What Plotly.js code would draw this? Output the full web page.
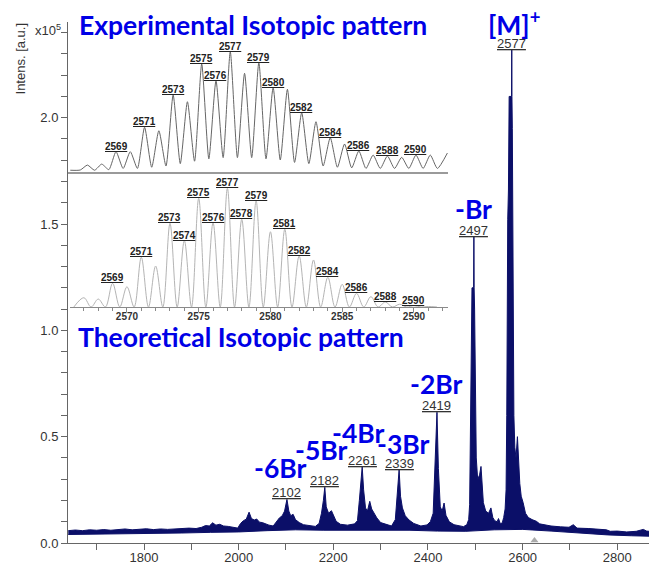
<!DOCTYPE html>
<html>
<head>
<meta charset="utf-8">
<script src="https://cdn.plot.ly/plotly-3.0.1.min.js"></script>
<style>
  html, body { margin: 0; padding: 0; background: #fff; }
  #chart { width: 649px; height: 564px; }
</style>
</head>
<body>
<div id="chart"></div>
<script>
// ---- Full MALDI spectrum (intensity in units of 1e5) ----
// upper edge of the recorded trace
const specMz = [
  1640, 1655, 1670, 1685, 1700, 1715, 1730, 1745, 1760, 1775, 1790, 1805, 1820, 1835, 1850, 1865,
  1880, 1895, 1910, 1922, 1930, 1938, 1945, 1952, 1960, 1968, 1978, 1988, 1998, 2004, 2010, 2016,
  2022, 2027, 2033, 2038, 2044, 2050, 2056, 2064, 2073, 2080, 2086, 2092, 2097, 2102, 2106, 2110,
  2115, 2120, 2128, 2137, 2150, 2162, 2170, 2175, 2179, 2182, 2185, 2190, 2196, 2200, 2206, 2215,
  2230, 2245, 2251, 2255, 2258, 2261, 2264, 2268, 2272, 2277, 2281, 2286, 2292, 2300, 2312, 2323,
  2331, 2335, 2339, 2342, 2346, 2352, 2360, 2370, 2385, 2398, 2405, 2411, 2415, 2419, 2422, 2426,
  2430, 2434, 2438, 2445, 2455, 2465, 2475, 2482, 2486, 2488, 2489.5, 2491, 2493, 2496.5, 2497, 2497.5,
  2498.5, 2500, 2502, 2505, 2509, 2512, 2514, 2517, 2522, 2528, 2533, 2537, 2541, 2546, 2549, 2553,
  2557, 2560, 2563, 2565, 2566.5, 2567.5, 2568.5, 2570, 2571.5, 2576.6, 2577, 2577.4, 2578.2, 2579, 2580, 2581.5,
  2583.5, 2586, 2589, 2591, 2594, 2597, 2601, 2606, 2612, 2620, 2629, 2636, 2645, 2660, 2680, 2698,
  2707, 2715, 2740, 2760, 2777, 2785, 2800, 2820, 2840, 2855, 2862, 2867
];
const specUpper = [
  0.058, 0.061, 0.058, 0.062, 0.060, 0.063, 0.060, 0.064, 0.066, 0.062, 0.065, 0.067, 0.063, 0.066, 0.064, 0.067,
  0.068, 0.070, 0.068, 0.074, 0.082, 0.080, 0.095, 0.084, 0.088, 0.080, 0.078, 0.074, 0.070, 0.092, 0.105, 0.112,
  0.145, 0.115, 0.108, 0.113, 0.098, 0.096, 0.090, 0.084, 0.080, 0.100, 0.118, 0.128, 0.150, 0.205, 0.150, 0.128,
  0.135, 0.110, 0.096, 0.086, 0.080, 0.078, 0.092, 0.140, 0.200, 0.262, 0.170, 0.140, 0.152, 0.128, 0.102, 0.088,
  0.084, 0.090, 0.105, 0.200, 0.300, 0.358, 0.250, 0.165, 0.150, 0.196, 0.160, 0.140, 0.118, 0.096, 0.086, 0.080,
  0.110, 0.240, 0.345, 0.220, 0.165, 0.128, 0.108, 0.092, 0.080, 0.085, 0.100, 0.140, 0.350, 0.615, 0.350, 0.170,
  0.150, 0.188, 0.130, 0.100, 0.086, 0.080, 0.077, 0.086, 0.110, 0.180, 0.50, 0.85, 1.20, 1.20, 1.44, 1.20,
  1.10, 0.80, 0.40, 0.30, 0.32, 0.36, 0.28, 0.19, 0.150, 0.140, 0.165, 0.120, 0.105, 0.100, 0.115, 0.090,
  0.095, 0.120, 0.160, 0.250, 0.60, 1.30, 1.52, 1.66, 2.10, 2.10, 2.32, 2.10, 1.95, 1.65, 0.95, 0.60,
  0.45, 0.40, 0.50, 0.40, 0.28, 0.22, 0.19, 0.140, 0.120, 0.110, 0.102, 0.090, 0.085, 0.080, 0.076, 0.074,
  0.086, 0.070, 0.068, 0.063, 0.062, 0.055, 0.056, 0.052, 0.055, 0.064, 0.056, 0.055
];
// lower edge of the noise band
const baseMz = [1640, 1700, 1760, 1820, 1880, 1940, 2000, 2060, 2120, 2180, 2240, 2300, 2360, 2420, 2480, 2540, 2600, 2660, 2720, 2780, 2830, 2867];
const baseLower = [0.040, 0.041, 0.043, 0.045, 0.047, 0.050, 0.052, 0.058, 0.062, 0.060, 0.060, 0.060, 0.060, 0.056, 0.055, 0.062, 0.064, 0.056, 0.046, 0.038, 0.034, 0.032];

// labelled peaks of the full spectrum
const mainPeaks = [2102, 2182, 2261, 2339, 2419, 2497, 2577];
// fragment assignments
const fragNames = ['-6Br', '-5Br', '-4Br', '-3Br', '-2Br', '-Br', '[M]<sup>+</sup>'];

// small grey marker on the baseline
const markMz = [2625];
const markY = [0.012];

// ---- Experimental isotopic pattern (relative intensity, 2577 = 100) ----
const expMz = [
  2565.8, 2566.5, 2567, 2567.5, 2568, 2568.5, 2569, 2569.5, 2570, 2570.5, 2571, 2571.5, 2572, 2572.5,
  2573, 2573.5, 2574, 2574.5, 2575, 2575.5, 2576, 2576.5, 2577, 2577.5, 2578, 2578.5, 2579, 2579.5,
  2580, 2580.5, 2581, 2581.5, 2582, 2582.5, 2583, 2583.5, 2584, 2584.5, 2585, 2585.5, 2586, 2586.5,
  2587, 2587.5, 2588, 2588.5, 2589, 2589.5, 2590, 2590.5, 2591, 2591.5, 2592.2
];
const expInt = [
  1.5, 1.7, 5.8, 1.5, 6.6, 2, 16.9, 3, 16.9, 3, 37.2, 4, 34.3, 5,
  64, 7, 58.4, 9, 89.8, 11, 75.9, 12, 100, 12, 82, 12, 90.9, 11,
  70.1, 10, 68.7, 8, 49.3, 7, 41.8, 5, 28.5, 4, 23.3, 3.5, 17.5, 3,
  14.1, 3, 13.3, 3, 12.2, 3, 14.1, 3, 14.1, 3, 15.8
];
const expLabels = [2569, 2571, 2573, 2575, 2576, 2577, 2579, 2580, 2582, 2584, 2586, 2588, 2590];

// ---- Theoretical isotopic pattern (relative intensity, 2577 = 100) ----
const theoMz = [
  2566.3, 2567, 2567.5, 2568, 2568.5, 2569, 2569.5, 2570, 2570.5, 2571, 2571.5, 2572, 2572.5,
  2573, 2573.5, 2574, 2574.5, 2575, 2575.5, 2576, 2576.5, 2577, 2577.5, 2578, 2578.5, 2579, 2579.5,
  2580, 2580.5, 2581, 2581.5, 2582, 2582.5, 2583, 2583.5, 2584, 2584.5, 2585, 2585.5, 2586, 2586.5,
  2587, 2587.5, 2588, 2588.5, 2589, 2589.5, 2590, 2590.5, 2591, 2591.6
];
const theoInt = [
  0, 7.8, 0, 6.7, 0, 20, 0, 17.1, 0, 41.9, 0, 34.5, 0,
  70.5, 0, 55.9, 0, 91.6, 0, 71, 0, 100, 0, 73.9, 0, 89.3, 0,
  63.4, 0, 65.5, 0, 43, 0, 39.6, 0, 25, 0, 19.1, 0, 11.5, 0,
  8.7, 0, 4.2, 0, 2.3, 0, 1.1, 0, 0.4, 0
];
const theoLabels = [2569, 2571, 2573, 2574, 2575, 2576, 2577, 2578, 2579, 2581, 2582, 2584, 2586, 2588, 2590];
const theoTicks = [2570, 2575, 2580, 2585, 2590];

// ---------------------------------------------------------------
const NAVY = '#0b0f68';
const BLUE = '#0000e6';
const AX = '#666';
const SANS = 'Liberation Sans, Arial, sans-serif';

const valueAt = (xs, ys, x) => ys[xs.indexOf(x)];

const traces = [
  { x: baseMz, y: baseLower, type: 'scatter', mode: 'lines',
    line: { color: NAVY, width: 1 }, hoverinfo: 'skip' },
  { x: specMz, y: specUpper, type: 'scatter', mode: 'lines', fill: 'tonexty',
    fillcolor: NAVY, line: { color: NAVY, width: 1 }, hoverinfo: 'skip' },
  { x: markMz, y: markY, type: 'scatter', mode: 'markers',
    marker: { symbol: 'triangle-up', size: 7, color: '#aaa' }, hoverinfo: 'skip' },
  { x: expMz, y: expInt, xaxis: 'x2', yaxis: 'y2', type: 'scatter', mode: 'lines',
    line: { color: '#666', width: 1, shape: 'spline', smoothing: 0.6 }, hoverinfo: 'skip' },
  { x: theoMz, y: theoInt, xaxis: 'x3', yaxis: 'y3', type: 'scatter', mode: 'lines',
    line: { color: '#b4b4b4', width: 1, shape: 'spline', smoothing: 1 }, hoverinfo: 'skip' }
];

const annotations = [];

// m/z labels on the full spectrum, underline resting on the peak top
mainPeaks.forEach(mz => {
  annotations.push({
    x: mz, y: valueAt(specMz, specUpper, mz), xref: 'x', yref: 'y',
    text: '<u>' + mz + '</u>', showarrow: false, yanchor: 'bottom', yshift: -3,
    font: { family: SANS, size: 13, color: '#333' }
  });
});

// m/z labels on the isotopic patterns
const smallLabelFont = { family: SANS, size: 10, color: '#222', weight: 700 };
expLabels.forEach(mz => {
  annotations.push({
    x: mz, y: valueAt(expMz, expInt, mz), xref: 'x2', yref: 'y2',
    text: '<u>' + mz + '</u>', showarrow: false, yanchor: 'bottom', yshift: -2,
    font: smallLabelFont
  });
});
theoLabels.forEach(mz => {
  annotations.push({
    x: mz, y: valueAt(theoMz, theoInt, mz), xref: 'x3', yref: 'y3',
    text: '<u>' + mz + '</u>', showarrow: false, yanchor: 'bottom', yshift: -2,
    font: smallLabelFont
  });
});

// fragment assignments and panel captions
const blueFont = { family: 'Lato, "Open Sans", sans-serif', size: 26.5, color: BLUE, weight: 700 };
const fragPos = [
  [2087, 0.352], [2174, 0.438], [2253, 0.515], [2347, 0.466], [2417, 0.75], [2496, 1.571], [2582, 2.445]
];
fragNames.forEach((name, i) => {
  annotations.push({
    x: fragPos[i][0], y: fragPos[i][1], xref: 'x', yref: 'y', text: name,
    showarrow: false, xanchor: 'center', yanchor: 'middle', font: blueFont
  });
});
annotations.push({
  x: 1659, y: 2.437, xref: 'x', yref: 'y', text: 'Experimental Isotopic pattern',
  showarrow: false, xanchor: 'left', yanchor: 'middle', font: blueFont
});
annotations.push({
  x: 1657, y: 0.97, xref: 'x', yref: 'y', text: 'Theoretical Isotopic pattern',
  showarrow: false, xanchor: 'left', yanchor: 'middle', font: blueFont
});

// axis caption and exponent
annotations.push({
  x: 0, y: 0.93, xref: 'paper', yref: 'paper', xshift: -48, text: 'Intens. [a.u.]',
  showarrow: false, textangle: -90, xanchor: 'center', yanchor: 'middle',
  font: { family: SANS, size: 13, color: '#333' }
});
annotations.push({
  x: 0, y: 0.985, xref: 'paper', yref: 'paper', xshift: -20, text: 'x10<sup>5</sup>',
  showarrow: false, xanchor: 'center', yanchor: 'middle',
  font: { family: SANS, size: 13, color: '#333' }
});

const tickFont = { family: SANS, size: 13, color: '#333' };

const layout = {
  width: 649, height: 564,
  margin: { l: 68, r: 0, t: 22, b: 21, pad: 0 },
  paper_bgcolor: '#fff', plot_bgcolor: 'rgba(0,0,0,0)',
  showlegend: false,
  xaxis: {
    range: [1639.4, 2867], tickmode: 'linear', tick0: 1800, dtick: 200,
    ticks: 'outside', ticklen: 6, tickcolor: AX, showline: true, linecolor: AX, linewidth: 1,
    showgrid: false, zeroline: false, tickfont: tickFont, ticklabelstandoff: -4,
    minor: { dtick: 100, tick0: 1700, ticks: 'outside', ticklen: 6, tickcolor: AX, showgrid: false }
  },
  yaxis: {
    range: [0, 2.45], tickmode: 'linear', tick0: 0, dtick: 0.5, tickformat: '.1f',
    ticks: 'outside', ticklen: 6, tickcolor: AX, showline: true, linecolor: AX, linewidth: 1,
    showgrid: false, zeroline: false, tickfont: tickFont,
    minor: { dtick: 0.1, ticks: 'outside', ticklen: 6, tickcolor: AX, showgrid: false }
  },
  xaxis2: {
    domain: [0, 0.654], anchor: 'y2', range: [2565.64, 2592.24],
    showline: true, linecolor: '#9a9a9a', linewidth: 1.5, ticks: '', showticklabels: false,
    showgrid: false, zeroline: false
  },
  yaxis2: { domain: [0.712, 0.9655], anchor: 'x2', range: [0, 109.7], visible: false },
  xaxis3: {
    domain: [0.0034, 0.654], anchor: 'y3', range: [2566.03, 2592.37],
    tickmode: 'array', tickvals: theoTicks,
    showline: true, linecolor: '#8a8a8a', linewidth: 1, ticks: 'outside', ticklen: 4, tickcolor: '#8a8a8a',
    showgrid: false, zeroline: false, ticklabelstandoff: -4,
    tickfont: { family: SANS, size: 10, color: '#333', weight: 700 },
    minor: { dtick: 1, tick0: 2566, ticks: 'outside', ticklen: 3, tickcolor: '#8a8a8a', showgrid: false }
  },
  yaxis3: { domain: [0.453, 0.6967], anchor: 'x3', range: [0, 107], visible: false },
  annotations: annotations
};

Plotly.newPlot('chart', traces, layout, { staticPlot: true, displayModeBar: false });
</script>
</body>
</html>
